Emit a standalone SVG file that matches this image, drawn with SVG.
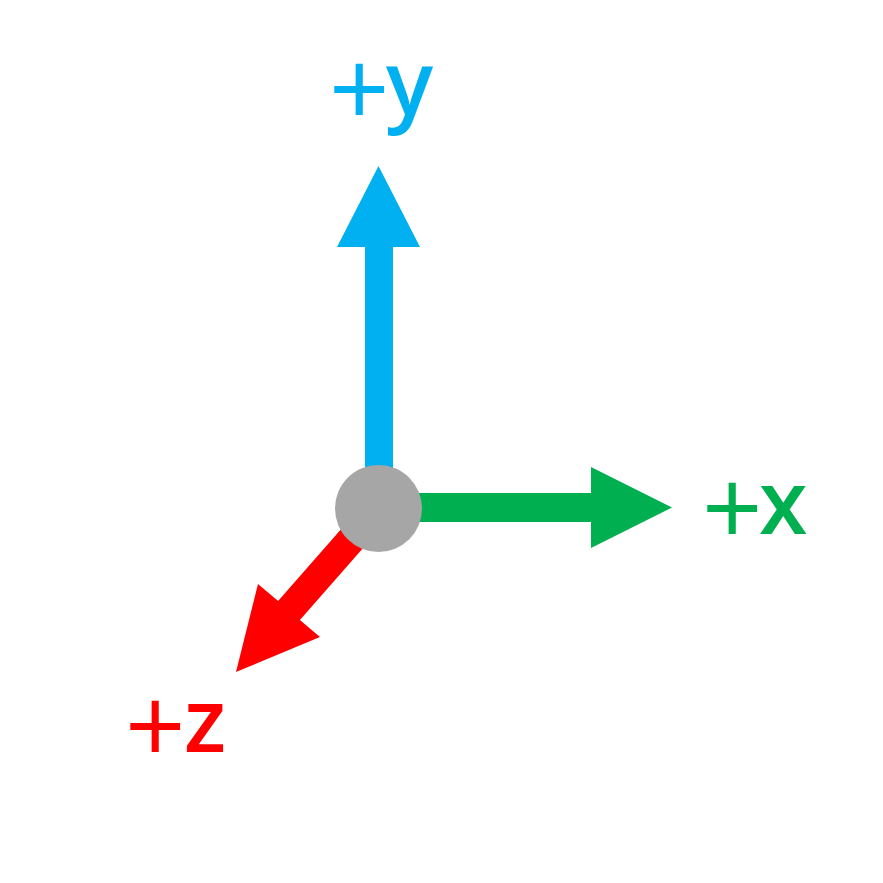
<svg xmlns="http://www.w3.org/2000/svg" width="883" height="883" viewBox="0 0 883 883">
<style>
.lbl{font-family:"Open Sans","Liberation Sans",sans-serif;font-weight:600;font-size:88px}
.pl{font-weight:400;font-size:106px}
</style>
<rect width="883" height="883" fill="#ffffff"/>
<g id="connectors">
<polygon id="axis-y" fill="#00B0F0" points="365,508 365,247 337,247 378.5,166 420,247 393,247 393,508"/>
<polygon id="axis-x" fill="#00B050" points="379,493 591,493 591,467 672,507.5 591,548 591,522 379,522"/>
<polygon id="axis-z" fill="#FF0000" points="389.9,517.6 299.9,620.1 320,637 236,672 258,584 278.1,600.9 368.1,498.4"/>
</g>
<g id="origin"><circle cx="378.5" cy="508.5" r="43.5" fill="#A6A6A6"/></g>
<g id="label-y"><text class="lbl" x="329" y="115" fill="#00B0F0"><tspan class="pl" dy="12">+</tspan><tspan x="386" dy="-12">y</tspan></text></g>
<g id="label-x"><text class="lbl" x="702" y="534" fill="#00B050"><tspan class="pl" dy="12">+</tspan><tspan x="759" dy="-12">x</tspan></text></g>
<g id="label-z"><text class="lbl" x="125" y="752" fill="#FF0000"><tspan class="pl" dy="12">+</tspan><tspan x="184" dy="-12">z</tspan></text></g>
</svg>
